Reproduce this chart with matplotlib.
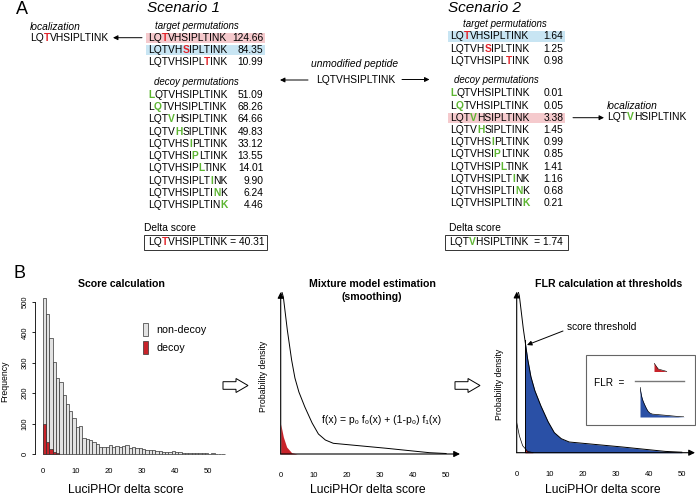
import numpy as np
import matplotlib
matplotlib.use('Agg')
import matplotlib.pyplot as plt
from matplotlib.patches import Rectangle, Patch, FancyArrow
from matplotlib.font_manager import FontProperties

plt.rcParams['font.family'] = ['Liberation Sans', 'DejaVu Sans']

W, H = 696, 496
RED = '#e2252b'
GREEN = '#5cb531'
PINK = '#f5cacd'
SKY = '#c8e5f3'
BLUE = '#2a50a6'
DARKRED = '#c8232a'

# ---- panel A data ----
peptide = 'LQTVHSIPLTINK'
target_sites = [2, 5, 9]
decoy_sites = [0, 1, 3, 4, 6, 7, 8, 10, 11, 12]
s1_target = ['124.66', '84.35', '10.99']
s1_decoy = ['51.09', '68.26', '64.66', '49.83', '33.12', '13.55', '14.01', '9.90', '6.24', '4.46']
s2_target = ['1.64', '1.25', '0.98']
s2_decoy = ['0.01', '0.05', '3.38', '1.45', '0.99', '0.85', '1.41', '1.16', '0.68', '0.21']
s1_delta = '40.31'
s2_delta = '1.74'

# ---- panel B data ----
hist_bins = np.arange(55)
nondecoy_counts = [515, 462, 383, 303, 249, 237, 194, 166, 142, 120, 90, 93, 54, 50, 46,
                   41, 33, 24, 24, 24, 29, 24, 27, 24, 27, 29, 20, 24, 21, 19, 15, 13, 13,
                   13, 11, 10, 8, 6, 6, 9, 8, 5, 4, 4, 3, 3, 3, 2, 2, 2, 1, 2, 1, 1, 1]
decoy_counts = [98, 38, 15, 6, 2]
dens_x = [0.1, 0.8, 2.0, 3.3, 4.3, 5.5, 7.3, 9.5, 11.4, 13.5, 15.9, 32, 45, 50]
dens_y = [165, 157, 124, 94, 76, 62, 47, 31, 20, 14, 10.7, 5.7, 1.3, 0.5]
f0_x = [0, 0.8, 1.8, 3.3, 5]
f0_y = [30, 17, 7, 1.3, 0]
threshold = 2.5

fig = plt.figure(figsize=(W / 100, H / 100), dpi=100)
renderer = fig.canvas.get_renderer()

def px_axes(l, t, r, b):
    return fig.add_axes([l / W, 1 - b / H, (r - l) / W, (b - t) / H])

def overlay():
    a = fig.add_axes([0, 0, 1, 1])
    a.set_xlim(0, W)
    a.set_ylim(H, 0)
    a.axis('off')
    return a

def ink_w(s, size, weight='normal'):
    prop = FontProperties(family=['Liberation Sans', 'DejaVu Sans'], size=size, weight=weight)
    return renderer.get_text_width_height_descent(s, prop, ismath=False)[0]

def seq(ax, x, y, site, color, tail='', size=7.4):
    head, c, rest = peptide[:site], peptide[site], peptide[site + 1:] + tail
    kw = dict(fontsize=size, va='center')
    extra = ink_w(c, size, 'bold') - ink_w(c, size)
    if head:
        ax.text(x, y, head, **kw)
        xc = x + ink_w(head + c, size) - ink_w(c, size)
    else:
        xc = x
    ax.text(xc, y, c, color=color, fontweight='bold', **kw)
    if rest:
        xr = x + ink_w(head + c + rest[0], size) - ink_w(rest[0], size) + extra
        ax.text(xr, y, rest, **kw)

def arrow(ax, x0, x1, y):
    ax.annotate('', xy=(x1, y), xytext=(x0, y),
                arrowprops=dict(arrowstyle='-|>', lw=0.7, color='k', mutation_scale=7,
                                shrinkA=0, shrinkB=0))

# ================= panel A =================
ov = overlay()
ov.text(21.5, 9, 'A', fontsize=13, ha='center', va='center')

def scenario(title, x0, vright, title_x, tgt_x, dec_x, ty0, dy0, tgt_vals, dec_vals, hl):
    ov.text(title_x, 7.5, title, fontsize=11, style='italic', va='center')
    ov.text(tgt_x, ty0 - 12, 'target permutations', fontsize=7, style='italic', va='center')
    ov.text(dec_x, dy0 - 13.2, 'decoy permutations', fontsize=7, style='italic', va='center')
    for i, (site, v) in enumerate(zip(target_sites, tgt_vals)):
        y = ty0 + i * 12.2
        if ('t', i) in hl:
            ov.add_patch(Rectangle((x0 - 2, y - 5.2), vright - x0 + 4, 10.4,
                                   color=hl[('t', i)], lw=0))
        seq(ov, x0, y, site, RED)
        ov.text(vright, y, v, fontsize=7.4, ha='right', va='center')
    for i, (site, v) in enumerate(zip(decoy_sites, dec_vals)):
        y = dy0 + i * 12.22
        if ('d', i) in hl:
            ov.add_patch(Rectangle((x0 - 2, y - 5.2), vright - x0 + 4, 10.4,
                                   color=hl[('d', i)], lw=0))
        seq(ov, x0, y, site, GREEN)
        ov.text(vright, y, v, fontsize=7.4, ha='right', va='center')

scenario('Scenario 1', 148, 263.3, 147, 155, 154, 37.7, 95, s1_target, s1_decoy,
         {('t', 0): PINK, ('t', 1): SKY})
scenario('Scenario 2', 450, 563.3, 448, 463, 454, 36.3, 93.3, s2_target, s2_decoy,
         {('t', 0): SKY, ('d', 2): PINK})

# localization / unmodified
ov.text(30, 26.7, 'localization', fontsize=7.4, style='italic', va='center')
seq(ov, 30, 37.7, 2, RED)
arrow(ov, 142, 113, 37.7)
ov.text(607, 106, 'localization', fontsize=7.4, style='italic', va='center')
seq(ov, 607, 117.5, 3, GREEN)
arrow(ov, 573, 604, 117.7)
ov.text(355, 64, 'unmodified peptide', fontsize=7.4, style='italic', ha='center', va='center')
ov.text(355.5, 80, peptide, fontsize=7.4, ha='center', va='center')
arrow(ov, 308, 280, 80)
arrow(ov, 402, 429.5, 79.5)

# delta score boxes
ov.text(144.3, 228.3, 'Delta score', fontsize=7.4, va='center')
ov.add_patch(Rectangle((144, 234.5), 123, 15.5, fill=False, ec='#333333', lw=0.7))
seq(ov, 148, 242, 2, RED, tail=' = ' + s1_delta)
ov.text(449.3, 228.3, 'Delta score', fontsize=7.4, va='center')
ov.add_patch(Rectangle((445, 234.5), 123, 15.5, fill=False, ec='#333333', lw=0.7))
seq(ov, 449, 242, 3, GREEN, tail='  = ' + s2_delta)

# ================= panel B =================
ax1 = px_axes(35, 296, 226, 462)
ax1.bar(hist_bins, nondecoy_counts, width=1, align='edge', color='#e2e2e2',
        edgecolor='#333333', linewidth=0.5)
ax1.bar(hist_bins[:len(decoy_counts)], decoy_counts, width=1, align='edge', color=DARKRED,
        edgecolor='#333333', linewidth=0.5)
ax1.set_xlim(-2.33, 55.4)
ax1.set_ylim(-26.3, 520)
for s in ['top', 'right', 'bottom']:
    ax1.spines[s].set_visible(False)
ax1.spines['left'].set_bounds(0, 500)
ax1.spines['left'].set_linewidth(0.6)
ax1.set_yticks(range(0, 501, 100))
ax1.set_yticklabels([str(v) for v in range(0, 501, 100)], rotation=90, va='center')
ax1.tick_params(axis='y', length=2.5, width=0.6, pad=2, labelsize=5.5)
ax1.set_xticks(range(0, 51, 10))
ax1.tick_params(axis='x', length=0, pad=4, labelsize=5.5)
ax1.patch.set_alpha(0)
ax1.legend(handles=[Patch(fc='#e2e2e2', ec='#333333', lw=0.5), Patch(fc=DARKRED, ec='#333333', lw=0.5)],
           labels=['non-decoy', 'decoy'], frameon=False, fontsize=7.7, handlelength=0.4,
           handleheight=1.5, handletextpad=0.8, labelspacing=0.45, loc='upper left',
           bbox_to_anchor=(139 / W, 1 - 319 / H), bbox_transform=fig.transFigure, borderaxespad=0)

def arrow_axes(ax):
    for s in ax.spines.values():
        s.set_visible(False)
    ax.set_yticks([])
    ax.set_xticks(range(0, 51, 10))
    ax.tick_params(axis='x', length=0, pad=13, labelsize=5.5)
    ax.patch.set_alpha(0)
    for xy in [(0, 1), (1, 0)]:
        ax.annotate('', xy=xy, xytext=(0, 0), xycoords='axes fraction',
                    arrowprops=dict(arrowstyle='-|>', lw=0.8, color='k', mutation_scale=9,
                                    shrinkA=0, shrinkB=0))

ax2 = px_axes(280.7, 292, 460, 454)
ax2.fill_between(f0_x, f0_y, color=DARKRED, lw=0)
ax2.plot(dens_x, dens_y, color='k', lw=0.7)
ax2.set_xlim(0, 54.2)
ax2.set_ylim(0, 162)
arrow_axes(ax2)

xs, ys = np.array(dens_x), np.array(dens_y)
bx = np.r_[threshold, xs[xs > threshold]]
by = np.r_[np.interp(threshold, xs, ys), ys[xs > threshold]]
rx0, ry0 = np.array(f0_x), np.array(f0_y)
rx = np.r_[threshold, rx0[rx0 > threshold]]
ry = np.r_[np.interp(threshold, rx0, ry0), ry0[rx0 > threshold]]

ax3 = px_axes(516.7, 291.7, 695, 452.7)
ax3.fill_between(bx, by, color=BLUE, lw=0)
ax3.fill_between(rx, ry, color=DARKRED, lw=0)
ax3.plot(dens_x, dens_y, color='k', lw=0.7)
ax3.plot(f0_x, f0_y, color='k', lw=0.5)
ax3.plot([threshold, threshold], [0, by[0]], color='k', lw=0.7)
ax3.set_xlim(0, 54.0)
ax3.set_ylim(0, 161)
arrow_axes(ax3)

top = overlay()
top.text(19.5, 274, 'B', fontsize=13, ha='center', va='center')
top.text(121, 284.3, 'Score calculation', fontsize=7.6, fontweight='bold', ha='center', va='center')
top.text(372, 284, 'Mixture model estimation', fontsize=7.6, fontweight='bold', ha='center', va='center')
top.text(372, 297, '(smoothing)', fontsize=7.6, fontweight='bold', ha='center', va='center')
top.text(609, 284.3, 'FLR calculation at thresholds', fontsize=7.6, fontweight='bold', ha='center', va='center')
for xc in [125.5, 367.5, 603]:
    top.text(xc, 490, 'LuciPHOr delta score', fontsize=8.7, ha='center', va='center')
top.text(4.5, 381, 'Frequency', fontsize=6.3, rotation=90, ha='center', va='center')
top.text(264, 376.5, 'Probability density', fontsize=6.3, rotation=90, ha='center', va='center')
top.text(500, 384, 'Probability density', fontsize=6.3, rotation=90, ha='center', va='center')
top.text(382, 420, 'f(x) = p\u2080 f\u2080(x) + (1-p\u2080) f\u2081(x)', fontsize=7.5, ha='center', va='center')
top.text(567, 327, 'score threshold', fontsize=7.3, va='center')
top.annotate('', xy=(527, 345), xytext=(563, 331),
             arrowprops=dict(arrowstyle='-|>', lw=0.7, color='k', mutation_scale=7, shrinkA=0, shrinkB=0))
for x0 in [223, 455]:
    top.add_patch(FancyArrow(x0, 385.5, 25, 0, width=7.6, head_width=14, head_length=12,
                             length_includes_head=True, fc='white', ec='k', lw=0.7))
top.add_patch(Rectangle((585.7, 355), 109, 70, fc='white', ec='#666666', lw=0.8))
top.text(594, 382.7, 'FLR  =', fontsize=7.2, va='center')
top.plot([635, 684], [380.7, 380.7], color='#777777', lw=1.0)

num = px_axes(654, 363, 667, 371.5)
num.fill_between(rx, ry, color=DARKRED, lw=0)
num.plot(rx, ry, color='k', lw=0.4)
num.set_xlim(threshold, rx[-1])
num.set_ylim(0, ry[0])
num.axis('off')

den = px_axes(640, 386.7, 684, 417)
den.fill_between(bx, by, color=BLUE, lw=0)
den.plot(bx, by, color='k', lw=0.5)
den.set_xlim(threshold, bx[-1])
den.set_ylim(0, by[0])
den.axis('off')

fig.savefig('out.png', dpi=100)
